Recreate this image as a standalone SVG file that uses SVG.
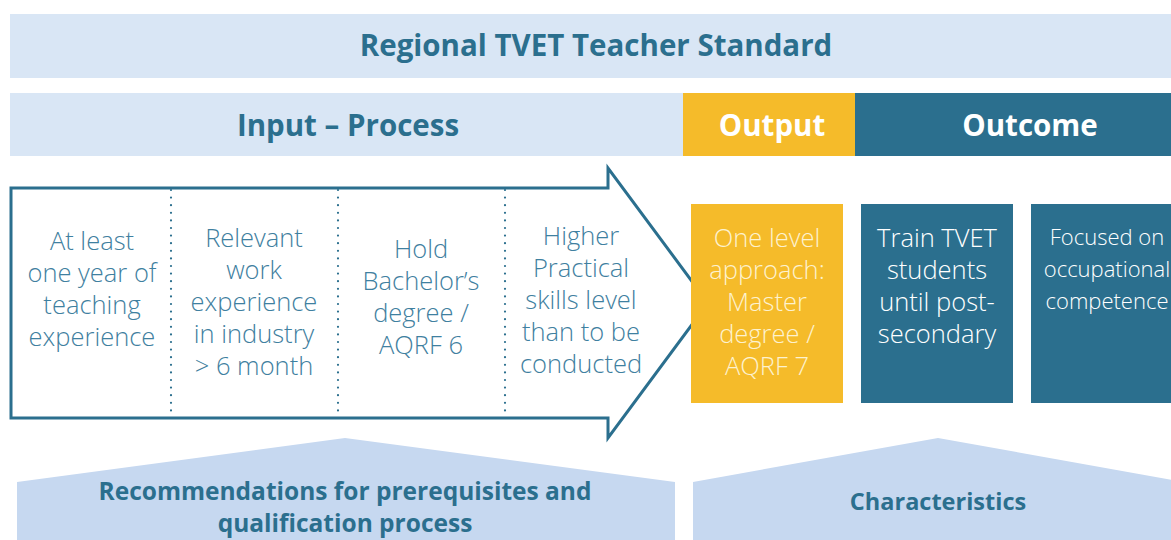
<svg xmlns="http://www.w3.org/2000/svg" width="1171" height="540" viewBox="0 0 1171 540">
<style>
.hdr{font-family:"Open Sans","Liberation Sans",sans-serif;font-weight:700;text-anchor:middle}
.t{font-family:"Open Sans","Liberation Sans",sans-serif;font-weight:300;font-size:25.5px;text-anchor:middle}
.t.sm{font-size:22px}
.in{fill:#3f80a0}
.wt{fill:#ffffff}
.cr{fill:#fdf2cf}
.dots{stroke:#2b6f8e;stroke-width:2.2;stroke-linecap:round;stroke-dasharray:0 7.6;fill:none}
</style>
<rect width="1171" height="540" fill="#ffffff"/>
<g id="title">
<rect x="10" y="14" width="1161" height="64" fill="#d9e6f5"/>
<text class="hdr" x="596" y="56" font-size="29.5" fill="#2b6f8e">Regional TVET Teacher Standard</text>
</g>
<g id="input-process-header">
<rect x="10" y="93" width="673" height="63" fill="#d9e6f5"/>
<text class="hdr" x="348" y="136" font-size="29.5" fill="#2b6f8e">Input – Process</text>
</g>
<g id="output-header">
<rect x="683" y="93" width="172" height="63" fill="#f5bb2a"/>
<text class="hdr" x="772" y="136" font-size="29.5" fill="#ffffff">Output</text>
</g>
<g id="outcome-header">
<rect x="855" y="93" width="316" height="63" fill="#2b6f8e"/>
<text class="hdr" x="1030" y="136" font-size="29.5" fill="#ffffff">Outcome</text>
</g>
<g id="arrow">
<path d="M11,188 H608 V168 L708,303 L608,438 V418 H11 Z" fill="#ffffff" stroke="#2b6f8e" stroke-width="3" stroke-linejoin="miter"/>
<line class="dots" x1="171" y1="190" x2="171" y2="416"/>
<line class="dots" x1="338" y1="190" x2="338" y2="416"/>
<line class="dots" x1="505" y1="190" x2="505" y2="416"/>
</g>
<g id="input1">
<text class="t in" x="92" y="250">At least</text>
<text class="t in" x="92" y="282">one year of</text>
<text class="t in" x="92" y="314">teaching</text>
<text class="t in" x="92" y="346">experience</text>
</g>
<g id="input2">
<text class="t in" x="254" y="247">Relevant</text>
<text class="t in" x="254" y="279">work</text>
<text class="t in" x="254" y="311">experience</text>
<text class="t in" x="254" y="343">in industry</text>
<text class="t in" x="254" y="375">&gt; 6 month</text>
</g>
<g id="input3">
<text class="t in" x="421" y="258">Hold</text>
<text class="t in" x="421" y="290">Bachelor’s</text>
<text class="t in" x="421" y="322">degree /</text>
<text class="t in" x="421" y="354">AQRF 6</text>
</g>
<g id="input4">
<text class="t in" x="581" y="245">Higher</text>
<text class="t in" x="581" y="277">Practical</text>
<text class="t in" x="581" y="309">skills level</text>
<text class="t in" x="581" y="341">than to be</text>
<text class="t in" x="581" y="373">conducted</text>
</g>
<g id="output1">
<rect x="691" y="204" width="152" height="199" fill="#f5bb2a"/>
<text class="t cr" x="767" y="247">One level</text>
<text class="t cr" x="767" y="279">approach:</text>
<text class="t cr" x="767" y="311">Master</text>
<text class="t cr" x="767" y="343">degree /</text>
<text class="t cr" x="767" y="375">AQRF 7</text>
</g>
<g id="outcome1">
<rect x="861" y="204" width="152" height="199" fill="#2b6f8e"/>
<text class="t wt" x="937" y="247">Train TVET</text>
<text class="t wt" x="937" y="279">students</text>
<text class="t wt" x="937" y="311">until post-</text>
<text class="t wt" x="937" y="343">secondary</text>
</g>
<g id="outcome2">
<rect x="1031" y="204" width="152" height="199" fill="#2b6f8e"/>
<text class="t sm wt" x="1107" y="245">Focused on</text>
<text class="t sm wt" x="1107" y="277">occupational</text>
<text class="t sm wt" x="1107" y="309">competence</text>
</g>
<g id="recommendations">
<path d="M17,482 L345,438 L675,482 V540 H17 Z" fill="#c6d8f0"/>
<text class="hdr" x="345" y="500" font-size="24.5" fill="#2b6f8e">Recommendations for prerequisites and</text>
<text class="hdr" x="345" y="532" font-size="24.5" fill="#2b6f8e">qualification process</text>
</g>
<g id="characteristics">
<path d="M693,482 L938,438 L1183,482 V540 H693 Z" fill="#c6d8f0"/>
<text class="hdr" x="938" y="510" font-size="23.5" fill="#2b6f8e">Characteristics</text>
</g>
</svg>
